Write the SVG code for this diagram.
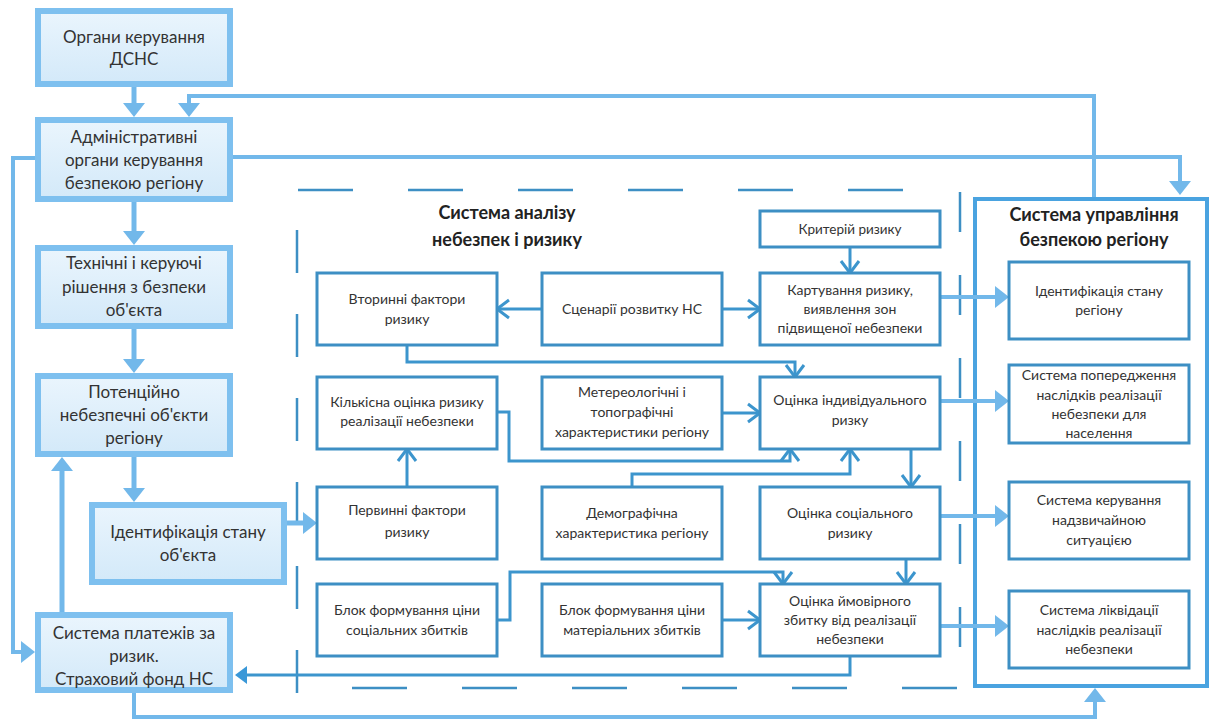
<svg xmlns="http://www.w3.org/2000/svg" width="1211" height="720" viewBox="0 0 1211 720">
<defs>
<linearGradient id="lg" x1="0" y1="0" x2="0" y2="1">
<stop offset="0" stop-color="#eaf5fd"/>
<stop offset="1" stop-color="#d3e9f9"/>
</linearGradient>
<marker id="fa" markerUnits="userSpaceOnUse" markerWidth="14" markerHeight="22" refX="2" refY="11" orient="auto" overflow="visible">
<path d="M0,0 L14,11 L0,22 z" fill="#72b8ea"/>
</marker>
<marker id="fd" markerUnits="userSpaceOnUse" markerWidth="12" markerHeight="18" refX="2" refY="9" orient="auto" overflow="visible">
<path d="M0,0 L12,9 L0,18 z" fill="#3a98d8"/>
</marker>
<marker id="oa" markerUnits="userSpaceOnUse" markerWidth="12" markerHeight="18" refX="12" refY="9" orient="auto" overflow="visible">
<path d="M0,0 L12,9 L0,18" fill="none" stroke="#3c95cd" stroke-width="3"/>
</marker>
</defs>
<style>
text{font-family:Lato,"Open Sans","Noto Sans",sans-serif;fill:#333;text-anchor:middle}
.lb rect{fill:url(#lg);stroke:#7ec0ef;stroke-width:6}
.lb text{font-size:17px}
.mb rect{fill:#fff;stroke:#3d8fc4;stroke-width:3}
.mb text{font-size:14px}
.title{font-size:18px;font-weight:bold;fill:#222}
.lc{fill:none;stroke:#72b8ea;stroke-width:5}
.lct{fill:none;stroke:#72b8ea;stroke-width:4}
.dc{fill:none;stroke:#3c95cd;stroke-width:3}
.dash{fill:none;stroke:#3d8fc4;stroke-width:2.5}
</style>
<rect width="1211" height="720" fill="#fff"/>

<g id="analysis-frame">
<path class="dash" d="M298,190 H903" stroke-dasharray="55 55"/>
<path class="dash" d="M352,688 H957" stroke-dasharray="55 55"/>
<path class="dash" d="M297,230 V693" stroke-dasharray="43 41"/>
<path class="dash" d="M960,192 V650" stroke-dasharray="40 43"/>
<text class="title" x="507" y="219">Система аналізу</text>
<text class="title" x="507" y="246">небезпек і ризику</text>
</g>

<g id="control-system">
<rect x="975" y="199" width="232" height="487" fill="none" stroke="#4aa3e0" stroke-width="4"/>
<text class="title" x="1094" y="221">Система управління</text>
<text class="title" x="1094" y="246">безпекою регіону</text>
</g>

<g id="connectors">
<path class="lc" d="M134,87 V105" marker-end="url(#fa)"/>
<path class="lc" d="M134,202 V233" marker-end="url(#fa)"/>
<path class="lc" d="M134,329 V361" marker-end="url(#fa)"/>
<path class="lc" d="M134,457 V490" marker-end="url(#fa)"/>
<path class="lc" d="M62,612 V469" marker-end="url(#fa)"/>
<path class="lct" d="M35,158 H13 V652 H23" marker-end="url(#fa)"/>
<path class="lc" d="M287,523 H305" marker-end="url(#fa)"/>
<path class="lct" d="M233,157 H1180 V183" marker-end="url(#fa)"/>
<path class="lct" d="M1094,197 V96 H189 V105" marker-end="url(#fa)"/>
<path class="lct" d="M134,693 V717 H1095 V700" marker-end="url(#fa)"/>
<path class="lct" d="M940,297 H997" marker-end="url(#fa)"/>
<path class="lct" d="M940,401 H997" marker-end="url(#fa)"/>
<path class="lct" d="M940,516 H997" marker-end="url(#fa)"/>
<path class="lct" d="M940,626 H997" marker-end="url(#fa)"/>

<path class="dc" d="M542,309 H497" marker-end="url(#oa)"/>
<path class="dc" d="M722,309 H760" marker-end="url(#oa)"/>
<path class="dc" d="M850,247 V273" marker-end="url(#oa)"/>
<path class="dc" d="M407,345 V362 H795 V377" marker-end="url(#oa)"/>
<path class="dc" d="M497,412 H509 V461 H790 V449" marker-end="url(#oa)"/>
<path class="dc" d="M722,413 H760" marker-end="url(#oa)"/>
<path class="dc" d="M632,487 V474 H850 V449" marker-end="url(#oa)"/>
<path class="dc" d="M407,487 V449" marker-end="url(#oa)"/>
<path class="dc" d="M911,449 V487" marker-end="url(#oa)"/>
<path class="dc" d="M906,559 V584" marker-end="url(#oa)"/>
<path class="dc" d="M497,620 H510 V572 H783 V584" marker-end="url(#oa)"/>
<path class="dc" d="M722,620 H760" marker-end="url(#oa)"/>
<path class="dc" d="M850,656 V675 H245" marker-end="url(#fd)"/>
</g>

<g id="dsns" class="lb">
<rect x="38" y="11" width="192" height="73"/>
<text x="134" y="43">Органи керування</text>
<text x="134" y="65">ДСНС</text>
</g>
<g id="admin" class="lb">
<rect x="38" y="120" width="192" height="79"/>
<text x="134" y="143">Адміністративні</text>
<text x="134" y="166">органи керування</text>
<text x="134" y="189">безпекою регіону</text>
</g>
<g id="tech" class="lb">
<rect x="38" y="248" width="192" height="78"/>
<text x="134" y="269">Технічні і керуючі</text>
<text x="134" y="293">рішення з безпеки</text>
<text x="134" y="316">об'єкта</text>
</g>
<g id="potential" class="lb">
<rect x="38" y="376" width="192" height="78"/>
<text x="134" y="398">Потенційно</text>
<text x="134" y="421">небезпечні об'єкти</text>
<text x="134" y="444">регіону</text>
</g>
<g id="ident-object" class="lb">
<rect x="92" y="505" width="192" height="77"/>
<text x="188" y="538">Ідентифікація стану</text>
<text x="188" y="561">об'єкта</text>
</g>
<g id="payments" class="lb">
<rect x="38" y="615" width="192" height="75"/>
<text x="134" y="639">Система платежів за</text>
<text x="134" y="662">ризик.</text>
<text x="134" y="685">Страховий фонд НС</text>
</g>

<g id="secondary" class="mb">
<rect x="317" y="273" width="180" height="72"/>
<text x="407" y="304">Вторинні фактори</text>
<text x="407" y="324">ризику</text>
</g>
<g id="scenarios" class="mb">
<rect x="542" y="273" width="180" height="72"/>
<text x="632" y="314">Сценарії розвитку НС</text>
</g>
<g id="criterion" class="mb">
<rect x="760" y="211" width="180" height="36"/>
<text x="850" y="234" style="font-size:13.5px">Критерій ризику</text>
</g>
<g id="mapping" class="mb">
<rect x="760" y="273" width="180" height="72"/>
<text x="850" y="295">Картування ризику,</text>
<text x="850" y="314">виявлення зон</text>
<text x="850" y="333">підвищеної небезпеки</text>
</g>
<g id="quantitative" class="mb">
<rect x="317" y="377" width="180" height="72"/>
<text x="407" y="407">Кількісна оцінка ризику</text>
<text x="407" y="426">реалізації небезпеки</text>
</g>
<g id="meteo" class="mb">
<rect x="542" y="377" width="180" height="72"/>
<text x="632" y="397">Метереологічні і</text>
<text x="632" y="417">топографічні</text>
<text x="632" y="437">характеристики регіону</text>
</g>
<g id="individual" class="mb">
<rect x="760" y="377" width="180" height="72"/>
<text x="850" y="405">Оцінка індивідуального</text>
<text x="850" y="425">ризку</text>
</g>
<g id="primary" class="mb">
<rect x="317" y="487" width="180" height="72"/>
<text x="407" y="515">Первинні фактори</text>
<text x="407" y="537">ризику</text>
</g>
<g id="demographic" class="mb">
<rect x="542" y="487" width="180" height="72"/>
<text x="632" y="518">Демографічна</text>
<text x="632" y="538">характеристика регіону</text>
</g>
<g id="social" class="mb">
<rect x="760" y="487" width="180" height="72"/>
<text x="850" y="518">Оцінка соціального</text>
<text x="850" y="538">ризику</text>
</g>
<g id="social-cost" class="mb">
<rect x="317" y="584" width="180" height="72"/>
<text x="407" y="615">Блок формування ціни</text>
<text x="407" y="635">соціальних збитків</text>
</g>
<g id="material-cost" class="mb">
<rect x="542" y="584" width="180" height="72"/>
<text x="632" y="615">Блок формування ціни</text>
<text x="632" y="635">матеріальних збитків</text>
</g>
<g id="damage" class="mb">
<rect x="760" y="584" width="180" height="72"/>
<text x="850" y="606">Оцінка ймовірного</text>
<text x="850" y="625">збитку від реалізації</text>
<text x="850" y="644">небезпеки</text>
</g>

<g id="ident-region" class="mb">
<rect x="1009" y="262" width="180" height="77"/>
<text x="1099" y="296">Ідентифікація стану</text>
<text x="1099" y="315">регіону</text>
</g>
<g id="warning" class="mb">
<rect x="1009" y="365" width="180" height="78"/>
<text x="1099" y="380">Система попередження</text>
<text x="1099" y="400">наслідків реалізації</text>
<text x="1099" y="419">небезпеки для</text>
<text x="1099" y="438">населення</text>
</g>
<g id="emergency" class="mb">
<rect x="1009" y="482" width="180" height="77"/>
<text x="1099" y="505">Система керування</text>
<text x="1099" y="525">надзвичайною</text>
<text x="1099" y="545">ситуацією</text>
</g>
<g id="liquidation" class="mb">
<rect x="1009" y="591" width="180" height="77"/>
<text x="1099" y="615">Система ліквідації</text>
<text x="1099" y="635">наслідків реалізації</text>
<text x="1099" y="654">небезпеки</text>
</g>
</svg>
